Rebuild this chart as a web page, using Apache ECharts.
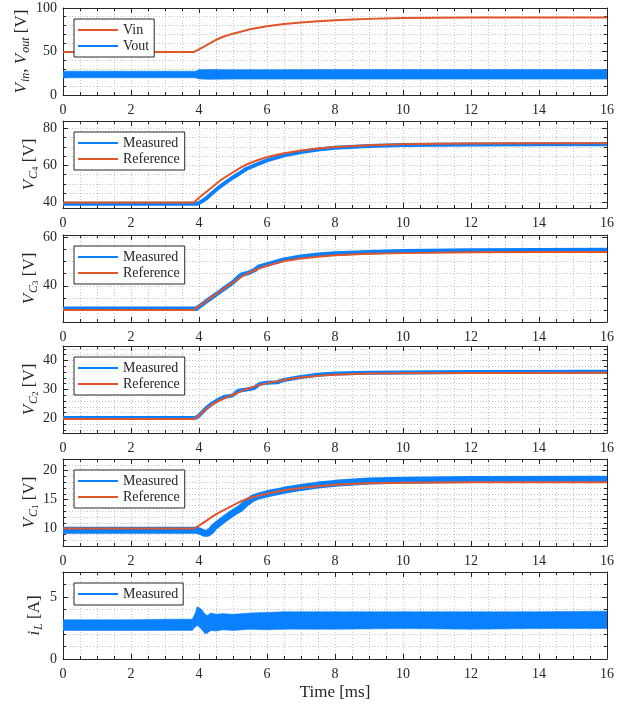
<!DOCTYPE html>
<html><head><meta charset="utf-8">
<script src="https://cdn.jsdelivr.net/npm/echarts@6/dist/echarts.min.js"></script>
<style>html,body{margin:0;padding:0;background:#fff}#c{width:627px;height:704px}</style>
</head><body><div id="c"></div>
<script>
// ---------- data (time in ms) ----------
// Panel 1: Vin / Vout
const tVin = [0, 3.85, 4.0, 4.25, 4.5, 4.75, 5.0, 5.5, 6.0, 6.5, 7.0, 7.5, 8.0, 8.5, 9.0, 10, 11, 12, 14, 16];
const vin  = [49.5, 49.5, 52.5, 58, 63.5, 67.5, 70.5, 75.5, 79, 81.6, 83.4, 84.8, 85.9, 86.8, 87.5, 88.4, 88.8, 89, 89, 89];
const tVout = [0, 2, 3.9, 4.0, 4.3, 5.0, 8, 12, 16];
const voutLow  = [19.8, 19.8, 19.8, 18.5, 18.0, 18.3, 18.3, 18.3, 18.3];
const voutHigh = [27.3, 27.3, 27.3, 29.0, 29.3, 29.0, 29.2, 29.2, 29.2];
// Panel 2: VC4
const tC4ref = [0, 3.85, 4.0, 4.2, 4.4, 4.6, 4.8, 5.0, 5.2, 5.4, 5.6, 5.8, 6.0, 6.5, 7.0, 7.5, 8.0, 9.0, 10, 11, 12, 14, 16];
const c4ref  = [40, 40, 42.5, 45.5, 48.5, 51.5, 54, 56.3, 58.5, 60.5, 62, 63.3, 64.5, 66.6, 68.1, 69.2, 70, 70.9, 71.4, 71.7, 71.9, 72, 72];
const tC4meas = [0, 3.95, 4.05, 4.2, 4.4, 4.6, 4.8, 5.0, 5.2, 5.4, 5.6, 5.8, 6.0, 6.5, 7.0, 7.5, 8.0, 9.0, 10, 12, 14, 16];
const c4meas  = [39.3, 39.3, 40.2, 42, 45.2, 48.3, 51, 53.5, 55.8, 58.2, 59.8, 61.3, 62.7, 65.5, 67.3, 68.6, 69.6, 70.5, 71, 71.3, 71.4, 71.5];
// Panel 3: VC3
const tC3ref = [0, 3.85, 4.0, 4.2, 4.4, 4.6, 4.8, 5.0, 5.2, 5.4, 5.6, 5.8, 6.0, 6.5, 7.0, 7.5, 8.0, 9.0, 10, 12, 14, 16];
const c3ref  = [30, 30, 31.5, 33.5, 35.6, 37.6, 39.5, 41.3, 43.2, 44.9, 46.2, 47.3, 48.3, 50.2, 51.3, 52, 52.6, 53.2, 53.5, 53.9, 54, 54];
const tC3meas = [0, 3.92, 4.0, 4.2, 4.4, 4.6, 4.8, 5.0, 5.15, 5.25, 5.45, 5.65, 5.75, 6.0, 6.5, 7.0, 7.5, 8.0, 9.0, 10, 12, 16];
const c3meas  = [30.5, 30.5, 31.3, 33.4, 35.4, 37.4, 39.4, 41.4, 43.4, 44.6, 45.3, 46.6, 47.8, 48.8, 50.8, 52, 52.8, 53.3, 53.9, 54.3, 54.6, 54.8];
// Panel 4: VC2
const tC2ref = [0, 3.85, 4.0, 4.2, 4.4, 4.6, 4.8, 5.0, 5.2, 5.4, 5.6, 5.8, 6.0, 6.5, 7.0, 7.5, 8.0, 9.0, 10, 12, 16];
const c2ref  = [19.8, 19.8, 21, 23.2, 25, 26.2, 27.2, 28.2, 29.2, 30.2, 30.9, 31.6, 32.2, 33.3, 34.1, 34.7, 35.1, 35.5, 35.6, 35.7, 35.8];
const tC2meas = [0, 3.9, 4.0, 4.2, 4.4, 4.6, 4.75, 4.95, 5.05, 5.15, 5.4, 5.6, 5.7, 5.8, 6.0, 6.3, 6.5, 7.0, 7.5, 8.0, 9.0, 10, 12, 16];
const c2meas  = [20.2, 20.2, 21, 23.4, 25.3, 26.6, 27.5, 27.8, 28.5, 29.6, 30.0, 30.4, 31.2, 32, 32.3, 32.5, 33.3, 34.3, 35.1, 35.5, 35.8, 35.9, 36, 36.1];
// Panel 5: VC1
const tC1ref = [0, 3.85, 4.0, 4.2, 4.4, 4.6, 4.8, 5.0, 5.2, 5.4, 5.6, 5.8, 6.0, 6.5, 7.0, 7.5, 8.0, 9.0, 10, 12, 16];
const c1ref  = [10, 10, 10.5, 11.3, 12.1, 12.8, 13.4, 14.0, 14.6, 15.1, 15.45, 15.75, 16.0, 16.6, 17.0, 17.3, 17.55, 17.8, 17.9, 18, 18];
const tC1meas = [0, 3.95, 4.05, 4.15, 4.25, 4.35, 4.45, 4.6, 4.8, 5.0, 5.1, 5.2, 5.4, 5.6, 5.8, 6.0, 6.5, 7.0, 7.5, 8.0, 9.0, 10, 12, 16];
const c1meas  = [9.7, 9.7, 9.5, 9.2, 9.2, 9.6, 10.3, 11, 11.9, 12.7, 13.1, 13.4, 14.5, 15.3, 15.7, 16, 16.6, 17.1, 17.5, 17.8, 18.2, 18.35, 18.45, 18.5];
// Panel 6: iL
const tIL = [0, 1, 2, 3, 3.8, 3.88, 3.95, 4.02, 4.1, 4.18, 4.25, 4.35, 4.5, 4.7, 5.0, 5.5, 6.0, 6.5, 7, 8, 10, 12, 14, 16];
const ilLow  = [2.3, 2.3, 2.3, 2.3, 2.3, 2.55, 2.7, 2.55, 2.3, 2.05, 2.1, 2.3, 2.25, 2.35, 2.3, 2.4, 2.35, 2.4, 2.4, 2.4, 2.45, 2.4, 2.45, 2.45];
const ilHigh = [3.15, 3.15, 3.15, 3.2, 3.2, 3.6, 4.2, 4.1, 3.9, 3.6, 3.5, 3.7, 3.6, 3.65, 3.6, 3.7, 3.75, 3.8, 3.8, 3.8, 3.8, 3.8, 3.8, 3.85];

// ---------- styling / layout ----------
const FONT = '"Liberation Serif", serif';
const AX = '#262626';
const GRIDC = '#c4c4c4';
const BLUE = '#0a80ff';
const ORANGE = '#e0552a';
const tops = [8, 121, 235, 346, 459, 572];
const H = 87;
const yCfg = [
  {min: 0, max: 100, interval: 50, minor: 5, gap: 31},
  {min: 37, max: 84, split: 2, minor: 4, gap: 23},
  {min: 25, max: 61, split: 2, minor: 4, gap: 23},
  {min: 15, max: 45, split: 3, minor: 5, gap: 23},
  {min: 7, max: 22, split: 3, minor: 5, gap: 23},
  {min: 0, max: 7, interval: 5, minor: 5, gap: 18}
];
const yNames = [
  '{m|V}{s|in}{r|, }{m|V}{s|out}{r| [V]}',
  '{m|V}{s|C}{ss|4}{r| [V]}',
  '{m|V}{s|C}{ss|3}{r| [V]}',
  '{m|V}{s|C}{ss|2}{r| [V]}',
  '{m|V}{s|C}{ss|1}{r| [V]}',
  '{m|i}{s|L}{r| [A]}'
];
const rich = {
  m: {fontFamily: FONT, fontStyle: 'italic', fontSize: 17, lineHeight: 20, color: AX},
  r: {fontFamily: FONT, fontSize: 17, lineHeight: 20, color: AX},
  s: {fontFamily: FONT, fontStyle: 'italic', fontSize: 12, lineHeight: 12, verticalAlign: 'bottom', color: AX, padding: [0, 0, 0, 1]},
  ss: {fontFamily: FONT, fontSize: 9, lineHeight: 7, verticalAlign: 'bottom', color: AX}
};
const zip = (t, v) => t.map((x, i) => [x, v[i]]);
const lineAx = {show: true, onZero: false, lineStyle: {color: AX, width: 1}};
const tickAx = {show: true, inside: true, length: 5, lineStyle: {color: AX, width: 1}};
const dotted = {show: true, lineStyle: {color: GRIDC, width: 1, type: [1, 2]}};

const grids = [], xAxes = [], yAxes = [], legends = [], series = [];
tops.forEach((top, i) => {
  grids.push({left: 63, width: 544, top: top, height: H});
  const last = i === tops.length - 1;
  xAxes.push({
    gridIndex: i, type: 'value', min: 0, max: 16, interval: 2, position: 'bottom',
    axisLine: lineAx, axisTick: tickAx,
    minorTick: {show: true, splitNumber: 4, length: 3, lineStyle: {color: AX}},
    axisLabel: {margin: 8, fontFamily: FONT, fontSize: 14, color: AX},
    splitLine: dotted, minorSplitLine: dotted,
    name: last ? 'Time [ms]' : '', nameLocation: 'middle', nameGap: 25,
    nameTextStyle: {fontFamily: FONT, fontSize: 17, color: AX}
  });
  xAxes.push({
    gridIndex: i, type: 'value', min: 0, max: 16, interval: 2, position: 'top',
    axisLine: lineAx, axisTick: tickAx,
    minorTick: {show: true, splitNumber: 4, length: 3, lineStyle: {color: AX}},
    axisLabel: {show: false}, splitLine: {show: false}
  });
  const c = yCfg[i];
  const base = {gridIndex: i, type: 'value', min: c.min, max: c.max};
  if (c.interval) base.interval = c.interval; else base.splitNumber = c.split;
  yAxes.push(Object.assign({}, base, {
    position: 'left', axisLine: lineAx, axisTick: tickAx,
    minorTick: {show: true, splitNumber: c.minor, length: 3, lineStyle: {color: AX}},
    axisLabel: {margin: 6, fontFamily: FONT, fontSize: 14, color: AX,
      showMinLabel: c.min === 0, showMaxLabel: c.max === 100},
    splitLine: dotted, minorSplitLine: dotted,
    name: yNames[i], nameLocation: 'middle', nameRotate: 90, nameGap: c.gap,
    nameMoveOverlap: false,
    nameTextStyle: {rich: rich}
  }));
  yAxes.push(Object.assign({}, base, {
    position: 'right', axisLine: lineAx, axisTick: tickAx,
    minorTick: {show: true, splitNumber: c.minor, length: 3, lineStyle: {color: AX}},
    axisLabel: {show: false}, splitLine: {show: false}
  }));
  legends.push({
    left: 74, top: top + 11, orient: 'vertical', icon: 'rect',
    itemWidth: 40, itemHeight: 2, itemGap: 0, padding: [3, 5, 3, 4],
    borderColor: AX, borderWidth: 1, backgroundColor: '#fff', borderRadius: 0,
    selectedMode: false,
    textStyle: {fontFamily: FONT, fontSize: 14, color: AX, lineHeight: 16},
    data: []
  });
});

function ser(gi, name, data, color, width) {
  return {
    type: 'line', name: name, xAxisIndex: 2 * gi, yAxisIndex: 2 * gi, data: data,
    symbol: 'none', showSymbol: false, animation: false,
    lineStyle: {color: color, width: width}, itemStyle: {color: color}
  };
}
// noisy measured band: polygon between lower and upper envelopes, placed through the axes
function band(gi, name, t, lo, hi, color) {
  series.push({
    type: 'custom', name: name, xAxisIndex: 2 * gi, yAxisIndex: 2 * gi,
    data: t.map((x, k) => [x, lo[k], hi[k]]),
    itemStyle: {color: color}, animation: false, clip: true,
    renderItem: function (params, api) {
      const k = params.dataIndex;
      if (k >= t.length - 1) return null;
      const p = [
        api.coord([t[k], lo[k]]), api.coord([t[k + 1], lo[k + 1]]),
        api.coord([t[k + 1], hi[k + 1]]), api.coord([t[k], hi[k]])
      ];
      return {type: 'polygon', shape: {points: p},
        style: {fill: color, stroke: color, lineWidth: 0.6}};
    }
  });
}

// panel 1
series.push(ser(0, 'Vin', zip(tVin, vin), ORANGE, 2));
band(0, 'Vout', tVout, voutLow, voutHigh, BLUE);
legends[0].data = ['Vin', 'Vout'];
// panels 2-5
const meas = [[tC4meas, c4meas, 4], [tC3meas, c3meas, 4.5], [tC2meas, c2meas, 4], [tC1meas, c1meas, 7]];
const refs = [[tC4ref, c4ref], [tC3ref, c3ref], [tC2ref, c2ref], [tC1ref, c1ref]];
for (let k = 0; k < 4; k++) {
  const gi = k + 1;
  series.push(ser(gi, 'Measured', zip(meas[k][0], meas[k][1]), BLUE, meas[k][2]));
  series.push(ser(gi, 'Reference', zip(refs[k][0], refs[k][1]), ORANGE, 2));
  legends[gi].data = ['Measured', 'Reference'];
}
// panel 6
band(5, 'Measured', tIL, ilLow, ilHigh, BLUE);
legends[5].data = ['Measured'];

const chart = echarts.init(document.getElementById('c'), null, {renderer: 'canvas'});
chart.setOption({
  animation: false,
  backgroundColor: '#fff',
  grid: grids, xAxis: xAxes, yAxis: yAxes, legend: legends, series: series
});
</script></body></html>
